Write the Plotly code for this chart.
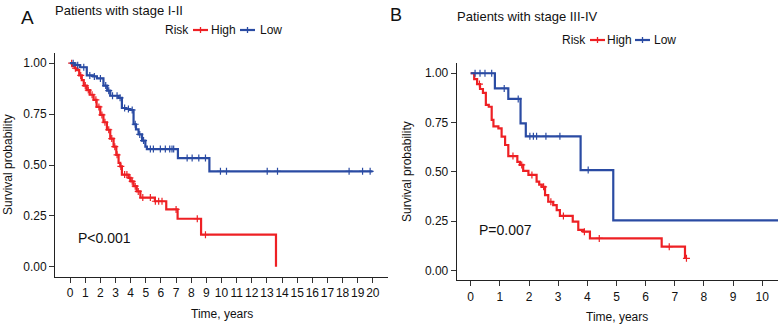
import numpy as np
import plotly.graph_objects as go

W, H = 778, 324
RED = "#EE2024"
BLUE = "#2A4BA3"
FONT = "Liberation Sans, Arial, sans-serif"

# ---------- Data (Kaplan-Meier step points) ----------
# Panel A: stage I-II
a_high_t = [0, 0.15, 0.3, 0.44, 0.6, 0.77, 0.9, 1.1, 1.3, 1.55, 1.75, 1.99, 2.2, 2.43, 2.65,
            2.87, 3.05, 3.2, 3.31, 3.42, 3.86, 4.0, 4.19, 4.4, 4.64, 5.6, 6.35, 7.1, 8.65, 13.6]
a_high_s = [1.0, 0.985, 0.975, 0.966, 0.94, 0.917, 0.89, 0.868, 0.845, 0.82, 0.785, 0.746, 0.71,
            0.673, 0.63, 0.59, 0.55, 0.51, 0.493, 0.453, 0.437, 0.42, 0.396, 0.37, 0.34, 0.322,
            0.282, 0.236, 0.158, 0.0]
a_high_cens = [0.1, 0.35, 0.7, 1.0, 1.2, 1.45, 1.7, 1.9, 2.1, 2.3, 2.55, 2.75, 2.95, 3.1, 3.35,
               3.6, 3.75, 3.95, 4.1, 4.3, 4.5, 4.8, 5.3, 5.63, 5.85, 6.07, 7.0, 8.4, 8.94]

a_low_t = [0, 0.3, 0.66, 1.1, 1.5, 1.77, 2.2, 2.45, 2.65, 3.2, 3.42, 3.7, 3.97, 4.19, 4.35, 4.52,
           4.75, 4.97, 5.07, 7.12, 9.2, 19.98]
a_low_s = [1.0, 0.99, 0.98, 0.94, 0.935, 0.925, 0.89, 0.865, 0.84, 0.83, 0.78, 0.775, 0.77, 0.70,
           0.675, 0.65, 0.62, 0.59, 0.578, 0.534, 0.469, 0.469]
a_low_cens = [0.2, 0.5, 0.9, 1.3, 1.6, 2.0, 2.35, 2.55, 2.8, 3.1, 3.3, 3.6, 3.85, 4.1, 4.3, 4.6,
              4.85, 5.3, 5.5, 5.96, 6.29, 6.58, 6.73, 6.84, 7.73, 8.06, 8.5, 8.94, 9.93, 10.33,
              13.02, 13.7, 18.43, 19.32, 19.82]

# Panel B: stage III-IV
b_high_t = [0, 0.12, 0.22, 0.32, 0.42, 0.52, 0.62, 0.72, 0.78, 0.95, 1.06, 1.18, 1.29, 1.6, 1.69,
            1.8, 1.98, 2.26, 2.35, 2.44, 2.55, 2.66, 2.83, 2.95, 3.06, 3.5, 3.69, 3.86, 4.09,
            6.55, 7.35]
b_high_s = [1.0, 0.97, 0.945, 0.92, 0.90, 0.84, 0.83, 0.763, 0.73, 0.72, 0.678, 0.636, 0.58, 0.55,
            0.535, 0.505, 0.484, 0.45, 0.435, 0.424, 0.382, 0.348, 0.331, 0.306, 0.276, 0.247,
            0.205, 0.196, 0.162, 0.12, 0.061]
b_high_cens = [0.3, 1.45, 1.75, 2.1, 2.5, 2.75, 3.18, 3.9, 4.41, 6.81, 7.4]

b_low_t = [0, 0.83, 1.29, 1.71, 1.89, 3.77, 4.89, 10.6]
b_low_s = [1.0, 0.923, 0.87, 0.746, 0.68, 0.509, 0.254, 0.254]
b_low_cens = [0.15, 0.32, 0.49, 0.72, 1.15, 1.63, 2.03, 2.15, 2.26, 2.58, 3.06, 4.03]

a_xticks = list(range(0, 21))
b_xticks = list(range(0, 11))
y_ticks = [0.0, 0.25, 0.5, 0.75, 1.0]


def step_at(t, s, c):
    t = np.asarray(t)
    s = np.asarray(s)
    idx = np.searchsorted(t, np.asarray(c), side="right") - 1
    return s[np.clip(idx, 0, len(s) - 1)]


def px(x):
    return x / W


def py(y):
    return 1 - y / H


fig = go.Figure()

panels = [
    ("x", "y", a_high_t, a_high_s, a_high_cens, a_low_t, a_low_s, a_low_cens),
    ("x2", "y2", b_high_t, b_high_s, b_high_cens, b_low_t, b_low_s, b_low_cens),
]
for xa, ya, ht, hs, hc, lt, ls, lc in panels:
    for t, s, c, col in [(ht, hs, hc, RED), (lt, ls, lc, BLUE)]:
        fig.add_trace(go.Scatter(x=t, y=s, mode="lines", line=dict(color=col, width=2.2, shape="hv"),
                                 xaxis=xa, yaxis=ya, showlegend=False, hoverinfo="skip"))
        fig.add_trace(go.Scatter(x=c, y=step_at(t, s, c), mode="markers",
                                 marker=dict(symbol="cross-thin", size=5, color=col,
                                             line=dict(color=col, width=1.2)),
                                 xaxis=xa, yaxis=ya, showlegend=False, hoverinfo="skip"))

axis_common = dict(showline=True, linecolor="#222", linewidth=1, ticks="outside", ticklen=5,
                   tickcolor="#333", tickwidth=1, showgrid=False, zeroline=False, tickangle=0,
                   tickfont=dict(family=FONT, size=12, color="#111"))

fig.update_layout(
    width=W, height=H, margin=dict(l=0, r=0, t=0, b=0),
    paper_bgcolor="white", plot_bgcolor="white",
    xaxis=dict(domain=[px(55), px(388)], range=[-1, 21], tickvals=a_xticks, anchor="y", **axis_common),
    yaxis=dict(domain=[py(277), py(53)], range=[-0.05, 1.05], tickvals=y_ticks, tickformat=".2f",
               anchor="x", **axis_common),
    xaxis2=dict(domain=[px(456.7), 1.0], range=[-0.48, 10.54], tickvals=b_xticks, anchor="y2", **axis_common),
    yaxis2=dict(domain=[py(280.2), py(63.4)], range=[-0.05, 1.05], tickvals=y_ticks, tickformat=".2f",
                anchor="x2", **axis_common),
)

ann = []


def text(x, y, s, size=12, anchor="left", angle=0):
    ann.append(dict(x=px(x), y=py(y), xref="paper", yref="paper", text=s, showarrow=False,
                    xanchor=anchor, yanchor="middle", textangle=angle,
                    font=dict(family=FONT, size=size, color="#111")))


# panel letters and titles
text(19, 17, "A", size=19)
text(388, 15, "B", size=18)
text(53, 10, "Patients with stage I-II", size=13)
text(455, 16, "Patients with stage III-IV", size=13)
# axis titles
text(221.5, 314, "Time, years", anchor="center")
text(617, 317, "Time, years", anchor="center")
text(8, 165, "Survival probability", anchor="center", angle=-90)
text(407, 172, "Survival probability", anchor="center", angle=-90)
# p-values
text(76, 238, "P<0.001", size=14)
text(477, 230, "P=0.007", size=14)

shapes = []


def legend(xr, y, x_red, x_hi, x_blue, x_lo):
    text(xr, y, "Risk")
    for x0, col in [(x_red, RED), (x_blue, BLUE)]:
        shapes.append(dict(type="line", xref="paper", yref="paper", x0=px(x0), x1=px(x0 + 15),
                           y0=py(y), y1=py(y), line=dict(color=col, width=2.2)))
        shapes.append(dict(type="line", xref="paper", yref="paper", x0=px(x0 + 7.5), x1=px(x0 + 7.5),
                           y0=py(y - 3), y1=py(y + 3), line=dict(color=col, width=1.3)))
    text(x_hi, y, "High")
    text(x_lo, y, "Low")


legend(163, 30, 193, 209, 240, 258)
legend(560, 40, 590, 605, 635, 652)

fig.update_layout(annotations=ann, shapes=shapes)
fig.write_html("out.html", config={"displayModeBar": False},
               post_script="document.body.style.margin='0';document.body.style.overflow='hidden';")
